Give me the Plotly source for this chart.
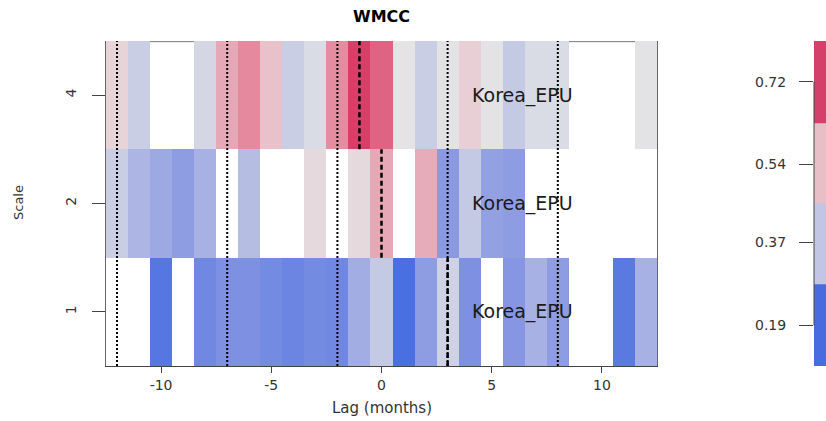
import plotly.graph_objects as go

# ---------------- data ----------------
lags = list(range(-12, 13))
scales = ["1", "2", "4"]

wmcc_scale1 = [None, None, 0.15, None, 0.21, 0.24, 0.24, 0.22, 0.20, 0.22, 0.21, 0.32, 0.39,
               0.12, 0.28, 0.41, 0.24, None, 0.26, 0.33, 0.28, None, None, 0.16, 0.33]
wmcc_scale2 = [0.40, 0.34, 0.31, 0.28, 0.33, None, 0.36, None, None, 0.48, None, 0.48, 0.58,
               None, 0.57, 0.27, 0.39, 0.29, 0.28, None, None, None, None, None, None]
wmcc_scale4 = [0.49, 0.40, None, None, 0.42, 0.58, 0.64, 0.53, 0.40, 0.43, 0.63, 0.79, 0.73,
               0.46, 0.40, 0.45, 0.50, 0.45, 0.39, 0.43, 0.43, None, None, None, 0.45]

peak_lags = [3, 0, -1]            # dashed line per scale (1, 2, 4)
dotted_lags = [-12, -7, -2, 3, 8]  # dotted reference lines
series_label = "Korea_EPU"
label_lag = 6.4

cb_ticks = [0.19, 0.37, 0.54, 0.72]
cb_ticktext = ["0.19", "0.37", "0.54", "0.72"]
x_ticks = [-10, -5, 0, 5, 10]
x_ticktext = ["-10", "-5", "0", "5", "10"]

# ---------------- styling ----------------
W, H = 826, 421
FONT = "DejaVu Sans"
heat_scale = [[0.0, "rgb(65,105,225)"], [0.25, "rgb(141,155,226)"], [0.5, "rgb(229,229,229)"],
              [0.6, "rgb(233,195,205)"], [0.75, "rgb(228,140,160)"], [0.9, "rgb(222,95,128)"],
              [1.0, "rgb(212,50,95)"]]
band_colors = ["rgb(72,108,224)", "rgb(194,198,228)", "rgb(232,190,199)", "rgb(213,64,106)"]
band_scale = []
n = len(band_colors)
for i, c in enumerate(band_colors):
    band_scale.append([i / n, c])
    band_scale.append([(i + 1) / n, c])

step = (cb_ticks[-1] - cb_ticks[0]) / (len(cb_ticks) - 1)
cb_lo, cb_hi = cb_ticks[0] - step / 2, cb_ticks[-1] + step / 2

def px_x(p):
    return p / W

def px_y(p):
    return 1 - p / H

x_dom = [px_x(106), px_x(657)]
y_dom = [px_y(366), px_y(41)]

fig = go.Figure()
fig.add_trace(go.Heatmap(
    x=lags, y=scales, z=[wmcc_scale1, wmcc_scale2, wmcc_scale4],
    colorscale=heat_scale, zmin=0.10, zmax=0.81, showscale=False,
    hoverongaps=False, xaxis="x", yaxis="y"))

fig.add_trace(go.Heatmap(
    x=[0], y=cb_ticks, z=[[i] for i in range(len(cb_ticks))],
    colorscale=band_scale, zmin=0, zmax=len(cb_ticks) - 1, showscale=False,
    xaxis="x2", yaxis="y2"))

shapes = []
# top border beneath the cells (visible only where cells are empty)
shapes.append(dict(type="line", xref="x domain", yref="y domain", x0=0, x1=1, y0=0.998, y1=0.998,
                   line=dict(color="#777", width=1), layer="below"))
for L in dotted_lags:
    shapes.append(dict(type="line", xref="x", yref="y domain", x0=L, x1=L, y0=0, y1=1,
                       line=dict(color="black", width=2, dash="2px,2px")))
for i, L in enumerate(peak_lags):
    shapes.append(dict(type="line", xref="x", yref="y", x0=L, x1=L, y0=i - 0.5, y1=i + 0.5,
                       line=dict(color="black", width=2.5, dash="5px,3px")))
# colorbar axis segment (R style: from first to last tick)
shapes.append(dict(type="line", xref="x2 domain", yref="y2", x0=0, x1=0,
                   y0=cb_ticks[0], y1=cb_ticks[-1], line=dict(color="#444", width=1)))

annotations = []
for i, s in enumerate(scales):
    annotations.append(dict(x=label_lag, y=i, xref="x", yref="y", text=series_label,
                            showarrow=False, xanchor="center", yanchor="middle",
                            font=dict(family=FONT, size=19, color="#1a1a1a")))
annotations.append(dict(x=px_x(381.5), y=px_y(16), xref="paper", yref="paper", text="<b>WMCC</b>",
                        showarrow=False, xanchor="center", yanchor="middle",
                        font=dict(family=FONT, size=16, color="black")))
annotations.append(dict(x=px_x(18), y=px_y(203), xref="paper", yref="paper", text="Scale",
                        showarrow=False, textangle=-90, xanchor="center", yanchor="middle",
                        font=dict(family=FONT, size=13, color="#333")))
annotations.append(dict(x=px_x(381.5), y=px_y(408), xref="paper", yref="paper", text="Lag (months)",
                        showarrow=False, xanchor="center", yanchor="middle",
                        font=dict(family=FONT, size=15, color="#333")))

fig.update_layout(
    template="none",
    width=W, height=H,
    margin=dict(l=0, r=0, t=0, b=0),
    paper_bgcolor="white", plot_bgcolor="white",
    showlegend=False,
    shapes=shapes, annotations=annotations,
    xaxis=dict(domain=x_dom, anchor="y", range=[-12.5, 12.5], tickvals=x_ticks,
               ticktext=x_ticktext,
               ticks="outside", ticklen=6, tickcolor="#444", showgrid=False, zeroline=False,
               showline=True, linecolor="#444", linewidth=1, automargin=False,
               tickfont=dict(family=FONT, size=14, color="#333")),
    yaxis=dict(domain=y_dom, anchor="x", type="category", categoryorder="array",
               categoryarray=scales, range=[-0.5, 2.5],
               ticks="outside", ticklen=13, tickcolor="#444", tickangle=-90,
               showgrid=False, zeroline=False, showline=True, mirror=True,
               linecolor="#666", linewidth=1, automargin=False, ticklabelstandoff=10,
               tickfont=dict(family=FONT, size=14, color="#333")),
    xaxis2=dict(domain=[px_x(814), 1], anchor="y2", range=[-0.5, 0.5], visible=False),
    yaxis2=dict(domain=y_dom, anchor="x2", side="left", range=[cb_lo, cb_hi],
                tickvals=cb_ticks, ticktext=cb_ticktext, ticks="outside", ticklen=14,
                tickcolor="#444", showgrid=False, zeroline=False, showline=False,
                automargin=False, ticklabelstandoff=10,
                tickfont=dict(family=FONT, size=14, color="#333")),
)

fig.write_html("out.html")
